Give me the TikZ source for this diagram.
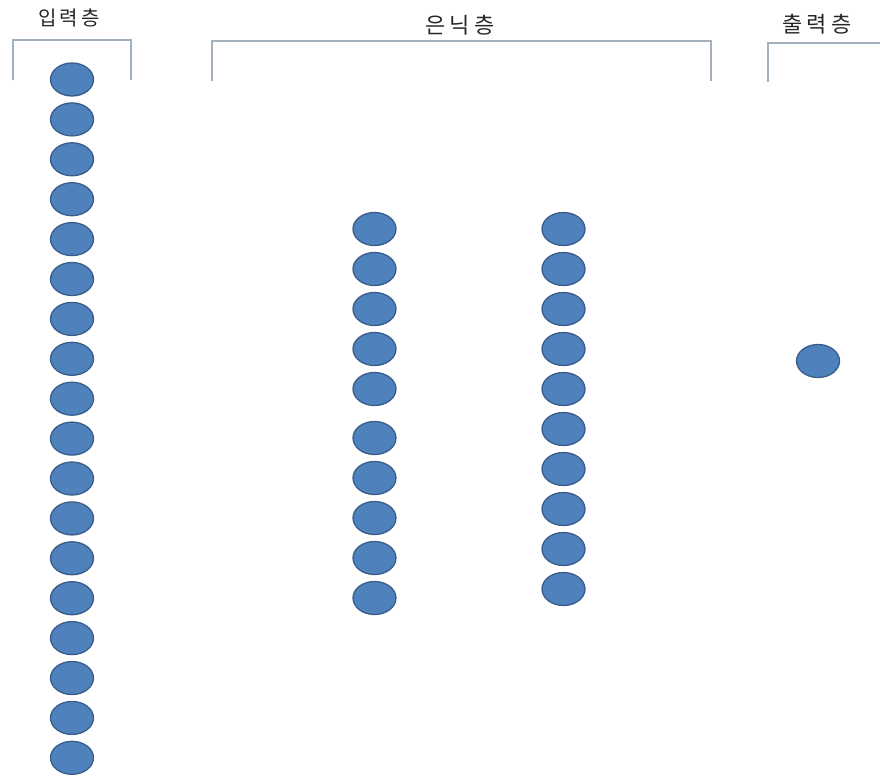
\documentclass[tikz,border=0pt]{standalone}
\usepackage{fontspec}
\newfontfamily\kr{Noto Sans CJK KR}
\usetikzlibrary{shapes.geometric}
\definecolor{nodefill}{HTML}{4F81BD}
\definecolor{nodeline}{HTML}{385D8A}
\definecolor{brack}{HTML}{A3B1BF}
\definecolor{labtext}{HTML}{262626}
\newcommand{\lgap}{\kern4.5pt}
\newcommand{\sgap}{\kern3pt}
\tikzset{
  neuron/.style={ellipse, draw=nodeline, fill=nodefill, line width=1.3pt,
    minimum width=43pt, minimum height=33pt, inner sep=0pt},
  bracketline/.style={draw=brack, line width=1.1pt},
  layerlabel/.style={font=\kr\fontsize{22}{25}\selectfont, text=labtext, inner sep=0pt},
  smalllabel/.style={layerlabel, font=\kr\fontsize{20}{23}\selectfont}
}
\begin{document}
\begin{tikzpicture}[x=1pt,y=-1pt]
\useasboundingbox (0,0) rectangle (880,779);
% labels
\node[smalllabel] (lin) at (69,18) {입\sgap 력\sgap 층};
\node[layerlabel] (lhid) at (460,25.5) {은\lgap 닉\lgap 층};
\node[layerlabel] (lout) at (817,24) {출\lgap 력\lgap 층};
% brackets
\draw[bracketline] (13,80) -- (13,40) -- (131,40) -- (131,80);
\draw[bracketline] (212,81) -- (212,41) -- (711,41) -- (711,81);
\draw[bracketline] (768,82) -- (768,43) -- (882,43);
% input layer
\foreach \i in {0,...,17}{
  \node[neuron] (in\i) at (72,{79.5+39.9*\i}) {};
}
% hidden layer 1
\foreach \y [count=\i] in {229,269,309,349,389,438,478,518,558,598}{
  \node[neuron] (ha\i) at (374.5,\y) {};
}
% hidden layer 2
\foreach \y [count=\i] in {229,269,309,349,389,429,469,509,549,589}{
  \node[neuron] (hb\i) at (563.5,\y) {};
}
% output
\node[neuron] (out) at (818,361) {};
\end{tikzpicture}
\end{document}
